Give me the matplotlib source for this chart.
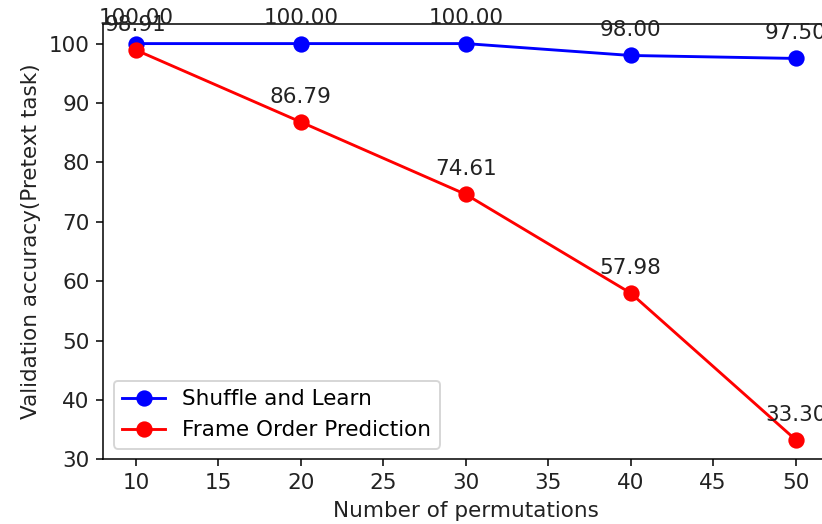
import matplotlib
matplotlib.use("Agg")
import matplotlib.pyplot as plt

permutations = [10, 20, 30, 40, 50]
shuffle_learn = [100.00, 100.00, 100.00, 98.00, 97.50]
frame_order = [98.91, 86.79, 74.61, 57.98, 33.30]

DPI = 138
plt.rcParams["font.size"] = 11.2
fig = plt.figure(figsize=(822 / DPI, 524 / DPI), dpi=DPI)
ax = fig.add_axes([0.1253, 0.1231, 1.008 - 0.1253, 0.9546 - 0.1231])

ax.plot(permutations, shuffle_learn, color="blue", marker="o", markersize=7.5,
        label="Shuffle and Learn")
ax.plot(permutations, frame_order, color="red", marker="o", markersize=7.5,
        label="Frame Order Prediction")

for x, y in zip(permutations, shuffle_learn):
    ax.annotate("%.2f" % y, (x, y), textcoords="offset points", xytext=(0, 10),
                ha="center", color="#222222")
for x, y in zip(permutations, frame_order):
    ax.annotate("%.2f" % y, (x, y), textcoords="offset points", xytext=(0, 10),
                ha="center", color="#222222")

ax.spines["right"].set_visible(False)
ax.set_xlabel("Number of permutations", color="#222222")
ax.set_ylabel("Validation accuracy(Pretext task)", color="#222222")
ax.tick_params(labelcolor="#222222")
ax.legend(loc="lower left")

fig.savefig("out.png", dpi=DPI)
